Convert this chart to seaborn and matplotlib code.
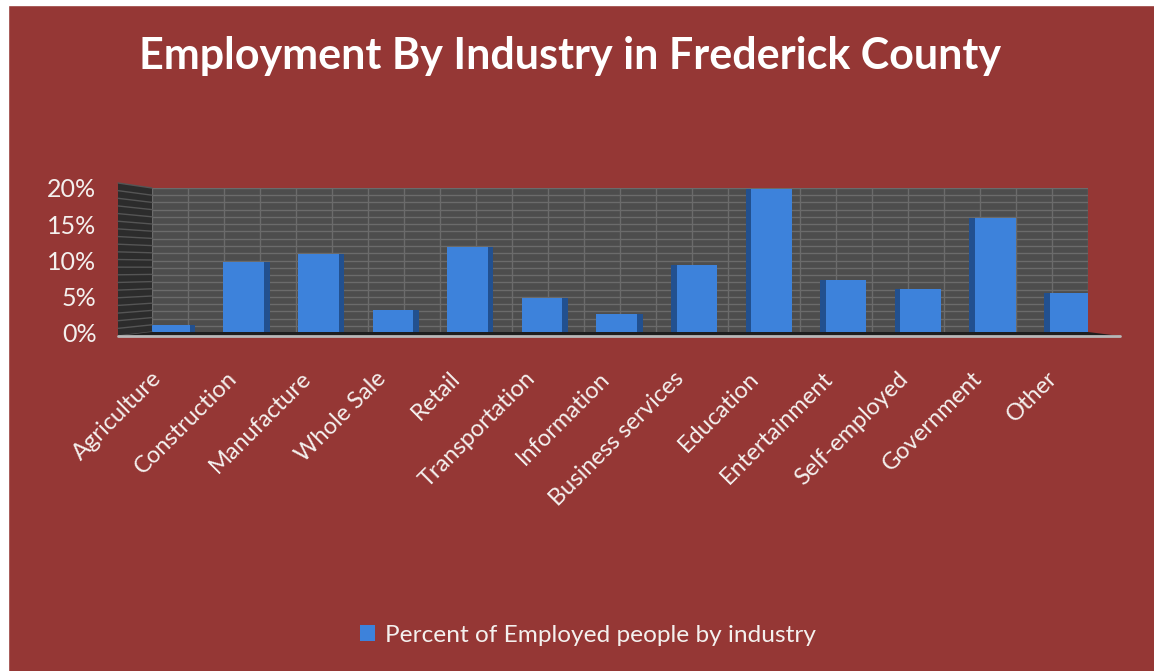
import numpy as np
import matplotlib
matplotlib.use("Agg")
import matplotlib.pyplot as plt
from matplotlib.patches import Rectangle, Polygon
from matplotlib.lines import Line2D
from matplotlib.transforms import ScaledTranslation
import seaborn as sns

# ---- data ----
categories = ["Agriculture", "Construction", "Manufacture", "Whole Sale", "Retail",
              "Transportation", "Information", "Business services", "Education",
              "Entertainment", "Self-employed", "Government", "Other"]
values = [0.011, 0.098, 0.109, 0.032, 0.119, 0.048, 0.026, 0.094, 0.199,
          0.073, 0.061, 0.159, 0.055]
ytick_vals = [0.0, 0.05, 0.10, 0.15, 0.20]
ytick_labels = ["0%", "5%", "10%", "15%", "20%"]
series_name = "Percent of Employed people by industry"
title = "Employment By Industry in Frederick County"

BG = "#953735"
BAR = "#3d82db"
BAR_DARK = "#22508f"
WALL = "#4d4d4d"
GRID = "#6b6b6b"
TXT = "#f4f0ee"

sns.set_theme(style="white")
plt.rcParams["font.family"] = ["Lato", "DejaVu Sans"]

W, H = 1154, 671
fig = plt.figure(figsize=(W / 100, H / 100), dpi=100)
fig.patch.set_facecolor(BG)

def fx(px):
    return px / W

def fy(py):
    return (H - py) / H

# white page strips (screenshot edges)
fig.add_artist(Rectangle((0, fy(5)), 1, 5 / H, transform=fig.transFigure,
                         color="white", zorder=0))
fig.add_artist(Rectangle((0, 0), fx(8), 1, transform=fig.transFigure,
                         color="white", zorder=0))

# side wall (3D look)
side_pts = [(118, 336), (152, 332), (152, 188), (118, 183)]
fig.add_artist(Polygon([(fx(a), fy(b)) for a, b in side_pts], closed=True,
                       transform=fig.transFigure, facecolor="#2c2c2c",
                       edgecolor="none", zorder=1))
for k in range(21):
    t = k / 20
    yf = 336 + (183 - 336) * t
    yb = 332 + (188 - 332) * t
    fig.add_artist(Line2D([fx(118), fx(152)], [fy(yf), fy(yb)],
                          transform=fig.transFigure, color="#555555", lw=1, zorder=1))

# floor
floor_pts = [(118, 336), (1120, 336), (1088, 332), (152, 332)]
fig.add_artist(Polygon([(fx(a), fy(b)) for a, b in floor_pts], closed=True,
                       transform=fig.transFigure, facecolor="#1e1e1e",
                       edgecolor="none", zorder=1))
fig.add_artist(Line2D([fx(118), fx(1120)], [fy(336), fy(336)],
                      transform=fig.transFigure, color="#b8b8b8", lw=2, zorder=3))

ax = fig.add_axes([fx(152), fy(333), (1088 - 152) / W, (333 - 188) / H])
ax.set_facecolor(WALL)
ax.set_axisbelow(True)

sns.barplot(x=categories, y=values, color=BAR, saturation=1, width=0.62,
            ax=ax, label=series_name, zorder=3, edgecolor="none", linewidth=0)

xl, xr = -0.268, 12.28
ax.set_xlim(xl, xr)
ax.set_ylim(0, 0.20)

# wall gridlines
ax.set_yticks(ytick_vals)
ax.set_yticklabels(ytick_labels)
ax.set_yticks(np.arange(0, 0.2001, 0.01), minor=True)
ax.yaxis.grid(True, which="both", color=GRID, lw=1)
for xv in np.linspace(xl, xr, 27):
    ax.axvline(xv, color=GRID, lw=1, zorder=0)

# darker side faces on bars
n = len(categories)
for i, p in enumerate(ax.patches[:n]):
    x0, w, h = p.get_x(), p.get_width(), p.get_height()
    sw = 0.075
    if i < 7:
        ax.add_patch(Rectangle((x0 + w - sw, 0), sw, h, color=BAR_DARK, zorder=4, lw=0))
    if i > 6:
        ax.add_patch(Rectangle((x0, 0), sw, h, color=BAR_DARK, zorder=4, lw=0))

for s in ax.spines.values():
    s.set_visible(False)

ax.tick_params(axis="y", which="both", length=0, pad=40, labelsize=18, labelcolor=TXT)
ax.tick_params(axis="x", length=0, pad=25, labelsize=17, labelcolor=TXT)
shift = ScaledTranslation(-15 / 72, 0, fig.dpi_scale_trans)
for lab in ax.get_xticklabels():
    lab.set_rotation(45)
    lab.set_ha("right")
    lab.set_va("top")
    lab.set_rotation_mode("anchor")
    lab.set_transform(lab.get_transform() + shift)
ax.set_xlabel("")
ax.set_ylabel("")

fig.text(fx(570), fy(56), title, ha="center", va="center", color="white",
         fontsize=31, fontweight="bold")

handles, labels = ax.get_legend_handles_labels()
if ax.get_legend() is not None:
    ax.get_legend().remove()
leg = fig.legend(handles[:1], labels[:1], loc="center", bbox_to_anchor=(fx(588), fy(635)),
                 frameon=False, fontsize=17.6, handlelength=0.6, handleheight=0.6,
                 handletextpad=0.4)
for t in leg.get_texts():
    t.set_color(TXT)

fig.savefig("out.png", dpi=100, facecolor=BG)
